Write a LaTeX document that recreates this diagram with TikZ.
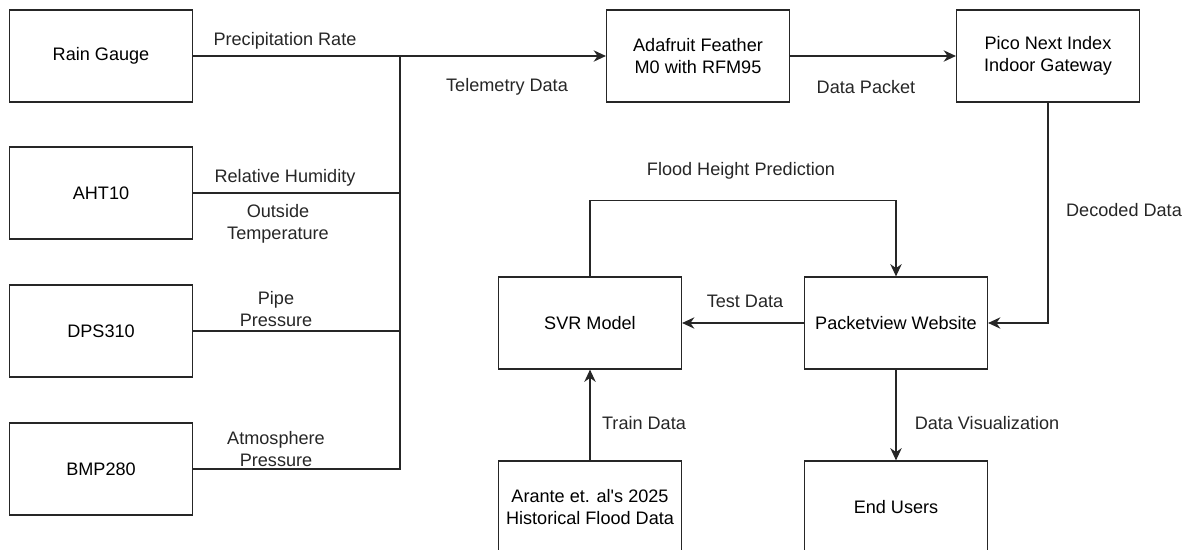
\documentclass[tikz,border=0pt]{standalone}
\usepackage{fontspec}
\setmainfont{Liberation Sans}
\usetikzlibrary{arrows.meta}

\tikzset{
  block/.style={draw=black!85, line width=0.7pt, minimum width=3.66cm, minimum height=1.84cm, align=center, inner sep=2pt},
  wire/.style={draw=black!85, line width=0.7pt},
  flow/.style={wire, -{Stealth[length=7pt,width=6.5pt]}},
  tag/.style={align=center, inner sep=0pt, text=black!85}
}

\begin{document}
\begin{tikzpicture}[x=0.02cm, y=-0.02cm, font=\fontsize{10.3}{12.5}\selectfont]
  \useasboundingbox (0,0) rectangle (1189,550);

  % sensors
  \node[block] (rain) at (101,56){Rain Gauge};
  \node[block] (aht) at (101,193){AHT10};
  \node[block] (dps) at (101,331){DPS310};
  \node[block] (bmp) at (101,469){BMP280};

  % radio chain
  \node[block] (feather) at (698,56){Adafruit Feather\\M0 with RFM95};
  \node[block] (pico) at (1048,56){Pico Next Index\\Indoor Gateway};

  % website and model
  \node[block] (svr) at (590,323){SVR Model};
  \node[block] (web) at (896,323){Packetview Website};
  \node[block] (arante) at (590,507){Arante et. al\textquotesingle s 2025\\Historical Flood Data};
  \node[block] (users) at (896,507){End Users};

  \coordinate (bustop) at (400,56);

  % sensor bus
  \draw[flow] (rain.east) -- (feather.west);
  \draw[wire] (aht.east) -- (aht.east -| bustop);
  \draw[wire] (dps.east) -- (dps.east -| bustop);
  \draw[wire] (bmp.east) -| (bustop);
  \node[tag] (lrate) at (285,41){Precipitation Rate};
  \node[tag] (lhum) at (285,178){Relative Humidity};
  \node[tag] (ltemp) at (278,224){Outside\\Temperature};
  \node[tag] (lpipe) at (276,309){Pipe\\Pressure};
  \node[tag] (latm) at (276,449){Atmosphere\\Pressure};
  \node[tag] (ltele) at (507,87){Telemetry Data};

  \draw[flow] (feather.east) -- (pico.west);
  \node[tag] (lpacket) at (866,87){Data Packet};

  \draw[flow] (pico.south) |- (web.east);
  \node[tag] (ldecode) at (1124,210){Decoded Data};

  \draw[flow] (web.west) -- (svr.east);
  \node[tag] (ltest) at (745,301){Test Data};

  \draw[flow] (svr.north) -- ++(0,-76) -| (web.north);
  \node[tag] (lflood) at (741,171){Flood Height Prediction};

  \draw[flow] (arante.north) -- (svr.south);
  \node[tag] (ltrain) at (644,423){Train Data};

  \draw[flow] (web.south) -- (users.north);
  \node[tag] (lvis) at (987,423){Data Visualization};

\end{tikzpicture}
\end{document}
